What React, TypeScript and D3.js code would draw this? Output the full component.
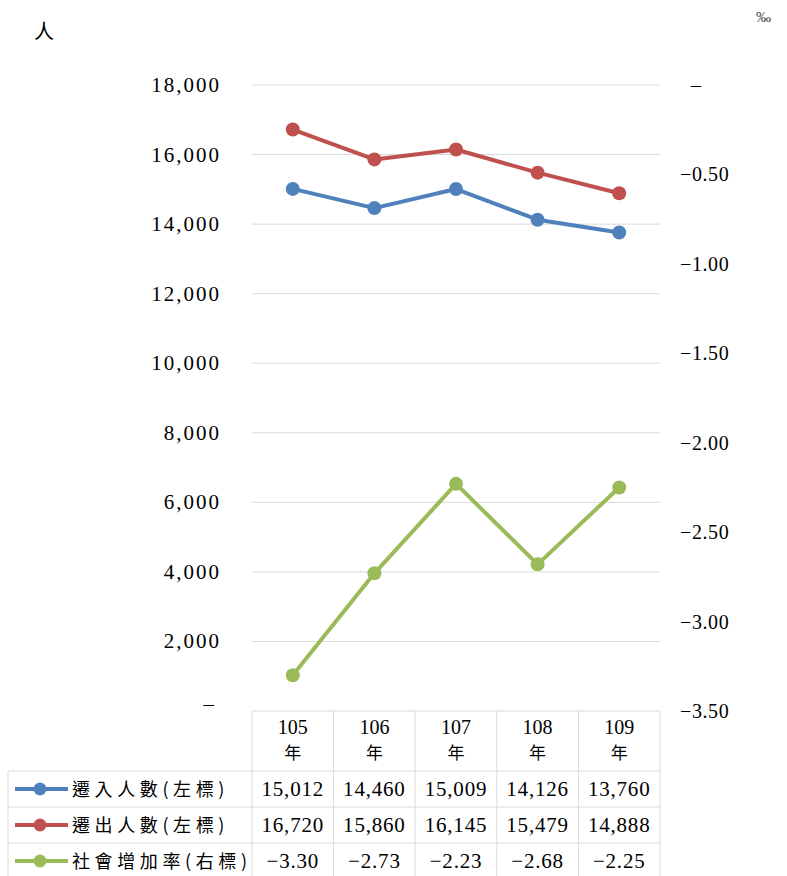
import React from "react";
import { scaleLinear, scalePoint, line, format } from "d3";

const years = ["105", "106", "107", "108", "109"];
const moveIn = [15012, 14460, 15009, 14126, 13760];
const moveOut = [16720, 15860, 16145, 15479, 14888];
const socialRate = [-3.3, -2.73, -2.23, -2.68, -2.25];
const leftTicks = [0, 2000, 4000, 6000, 8000, 10000, 12000, 14000, 16000, 18000];
const rightTicks = [0, -0.5, -1, -1.5, -2, -2.5, -3, -3.5];

const series = [
  { name: "遷入人數(左標)", values: moveIn, color: "#4F81BD", axis: "left" },
  { name: "遷出人數(左標)", values: moveOut, color: "#C0504D", axis: "left" },
  { name: "社會增加率(右標)", values: socialRate, color: "#9BBB59", axis: "right" },
];

const W = 787;
const H = 876;
const plot = { left: 252, right: 660, top: 85, bottom: 711 };
const tableLeft = 8;
const headerBottom = 771;
const rowH = 36;
const grid = "#d9d9d9";
const serif = "'Liberation Serif', 'DejaVu Serif', serif";
const cjk = "'Noto Sans CJK TC', 'Noto Sans CJK SC', sans-serif";

export default function App() {
  const colW = (plot.right - plot.left) / years.length;
  const x = scalePoint<string>()
    .domain(years)
    .range([plot.left + colW / 2, plot.right - colW / 2]);
  const yL = scaleLinear().domain([0, 18000]).range([plot.bottom, plot.top]);
  const yR = scaleLinear().domain([-3.5, 0]).range([plot.bottom, plot.top]);
  const fmtL = format(",");
  const fmtR = format(".2f");

  return (
    <svg width={W} height={H} style={{ position: "absolute", left: 0, top: 0 }}>
      <rect width={W} height={H} fill="#fff" />
      <text x={34} y={39} fontFamily={cjk} fontSize={20} fill="#000">人</text>
      <text x={756} y={22} fontFamily={serif} fontSize={15} fill="#444">‰</text>

      {leftTicks.map((t) => (
        <g key={t}>
          {t > 0 && (
            <line x1={plot.left} x2={plot.right} y1={yL(t)} y2={yL(t)} stroke={grid} />
          )}
          <text
            x={t === 0 ? 216 : 221}
            y={yL(t) + (t === 0 ? 0 : 7)}
            textAnchor="end"
            fontFamily={serif}
            fontSize={21}
            letterSpacing={2}
            fill="#000"
          >
            {t === 0 ? "–" : fmtL(t)}
          </text>
        </g>
      ))}

      {rightTicks.map((t) => (
        <text
          key={t}
          x={t === 0 ? 691 : 680}
          y={yR(t) + 7}
          textAnchor="start"
          fontFamily={serif}
          fontSize={20}
          letterSpacing={0.6}
          fill="#000"
        >
          {t === 0 ? "–" : "−" + fmtR(-t).replace("-", "")}
        </text>
      ))}

      {series.map((s) => {
        const yy = s.axis === "left" ? yL : yR;
        const path = line<number>()
          .x((_, i) => x(years[i]) as number)
          .y((d) => yy(d))(s.values);
        return (
          <g key={s.name}>
            <path d={path ?? ""} fill="none" stroke={s.color} strokeWidth={4} strokeLinejoin="round" />
            {s.values.map((v, i) => (
              <circle key={i} cx={x(years[i])} cy={yy(v)} r={7} fill={s.color} />
            ))}
          </g>
        );
      })}

      {/* data table */}
      <g>
        {years.map((yr) => {
          const cx = x(yr) as number;
          return (
            <g key={yr}>
              <text x={cx} y={734} textAnchor="middle" fontFamily={serif} fontSize={20} fill="#000">{yr}</text>
              <text x={cx} y={759} textAnchor="middle" fontFamily={cjk} fontSize={17} fill="#000">年</text>
            </g>
          );
        })}
        <line x1={plot.left} x2={plot.right} y1={plot.bottom} y2={plot.bottom} stroke={grid} />
        {series.map((s, r) => {
          const top = headerBottom + r * rowH;
          const cy = top + rowH / 2;
          return (
            <g key={s.name}>
              <line x1={tableLeft} x2={plot.right} y1={top} y2={top} stroke={grid} />
              <line x1={15} x2={68} y1={cy} y2={cy} stroke={s.color} strokeWidth={4} />
              <circle cx={40} cy={cy} r={6.5} fill={s.color} />
              <text x={72} y={cy + 7} fontFamily={cjk} fontSize={18} letterSpacing={4.6} fill="#000">{s.name}</text>
              {s.values.map((v, i) => (
                <text
                  key={i}
                  x={x(years[i])}
                  y={cy + 7}
                  textAnchor="middle"
                  fontFamily={serif}
                  fontSize={21}
                  letterSpacing={0.8}
                  fill="#000"
                >
                  {s.axis === "left" ? fmtL(v) : "−" + fmtR(-v)}
                </text>
              ))}
            </g>
          );
        })}
        <line x1={tableLeft} x2={tableLeft} y1={headerBottom} y2={H} stroke={grid} />
        {[...years.map((_, i) => plot.left + i * colW), plot.right].map((vx, i) => (
          <line key={i} x1={vx} x2={vx} y1={plot.bottom} y2={H} stroke={grid} />
        ))}
      </g>
    </svg>
  );
}
